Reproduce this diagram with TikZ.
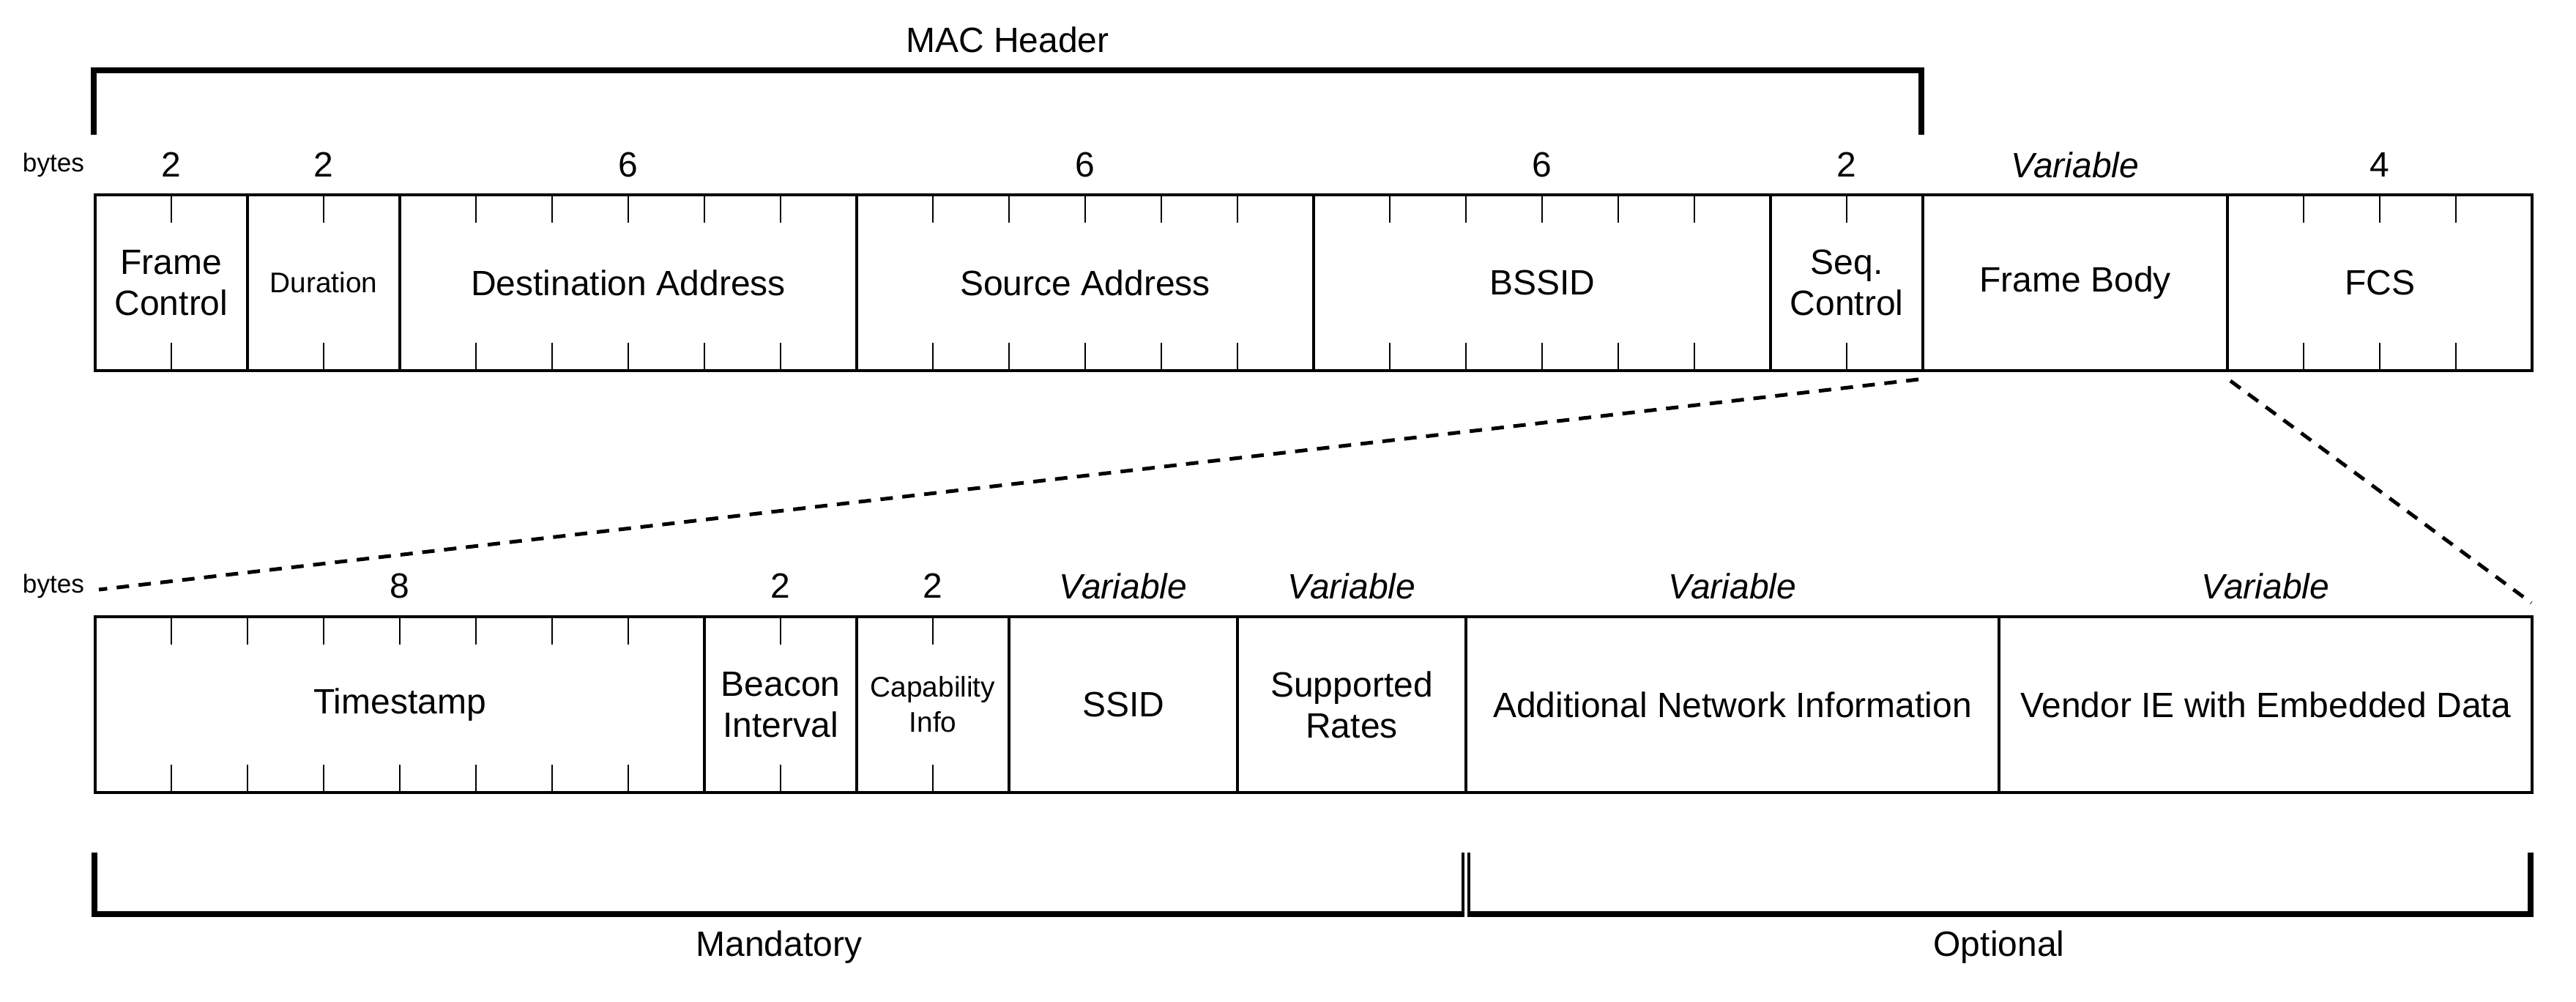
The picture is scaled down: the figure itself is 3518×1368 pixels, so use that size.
\documentclass[tikz,border=0pt]{standalone}
\usepackage{fontspec}
\setmainfont{Liberation Sans}
\usetikzlibrary{positioning}

\begin{document}
\begin{tikzpicture}[x=0.25pt,y=-0.25pt,
  field/.style={draw,line width=0.85pt,inner sep=0pt,outer sep=0pt,
    minimum width=#1*26pt,minimum height=60pt,align=center,
    font=\fontsize{12}{14}\selectfont},
  small/.style={font=\fontsize{9.7}{12}\selectfont},
  count/.style={inner sep=0pt,font=\fontsize{12}{14}\selectfont},
  var/.style={count,font=\fontsize{12}{14}\selectfont\itshape},
  unit/.style={inner sep=0pt,font=\fontsize{8.8}{10}\selectfont},
  title/.style={inner sep=0pt,font=\fontsize{12}{14}\selectfont},
  tick/.style={line width=0.65pt},
  bracket/.style={line width=2pt,line join=miter},
  thinleg/.style={line width=1pt},
  zoomline/.style={line width=1.25pt,dash pattern=on 4.25pt off 3.25pt}]

  \useasboundingbox (0,0) rectangle (3518,1368);

  % MAC frame
  \node[field=2] at (234,386) (fc) {Frame\\Control};
  \node[field=2,small,right=0pt of fc] (dur) {Duration};
  \node[field=6,right=0pt of dur] (da) {Destination Address};
  \node[field=6,right=0pt of da] (sa) {Source Address};
  \node[field=6,right=0pt of sa] (bssid) {BSSID};
  \node[field=2,right=0pt of bssid] (seq) {Seq.\\Control};
  \node[field=4,right=0pt of seq] (body) {Frame Body};
  \node[field=4,right=0pt of body] (fcs) {FCS};

  \coordinate (toprow) at (0,225);
  \node[unit] at (73,225) (bytesa) {bytes};
  \node[count] at (fc |- toprow) {2};
  \node[count] at (dur |- toprow) {2};
  \node[count] at (da |- toprow) {6};
  \node[count] at (sa |- toprow) {6};
  \node[count] at (bssid |- toprow) {6};
  \node[count] at (seq |- toprow) {2};
  \node[var] at (body |- toprow) {Variable};
  \node[count] at (fcs |- toprow) {4};

  \foreach \x in {234,442,650,754,858,962,1066,1274,1378,1482,1586,1690,
                  1898,2002,2106,2210,2314,2522,3146,3250,3354}
    \draw[tick] (\x,266) -- ++(0,38) (\x,506) -- ++(0,-38);

  % MAC header bracket
  \draw[bracket] (128,184) |- (2624,96) -- (2624,184);
  \node[title] at (1376,54) (mac) {MAC Header};

  % beacon frame body
  \node[field=8] at (546,962) (ts) {Timestamp};
  \node[field=2,right=0pt of ts] (bi) {Beacon\\Interval};
  \node[field=2,small,right=0pt of bi] (cap) {Capability\\Info};
  \node[field=3,right=0pt of cap] (ssid) {SSID};
  \node[field=3,right=0pt of ssid] (rates) {Supported\\Rates};
  \node[field=7,right=0pt of rates] (netinfo) {Additional Network Information};
  \node[field=7,right=0pt of netinfo] (vendor) {Vendor IE with Embedded Data};

  \coordinate (botrow) at (0,800);
  \node[unit] at (73,800) (bytesb) {bytes};
  \node[count] at (ts |- botrow) {8};
  \node[count] at (bi |- botrow) {2};
  \node[count] at (cap |- botrow) {2};
  \node[var] at (ssid |- botrow) {Variable};
  \node[var] at (rates |- botrow) {Variable};
  \node[var] at (netinfo |- botrow) {Variable};
  \node[var] at (vendor |- botrow) {Variable};

  \foreach \x in {234,338,442,546,650,754,858,1066,1274}
    \draw[tick] (\x,842) -- ++(0,38) (\x,1082) -- ++(0,-38);

  % zoom lines
  \draw[zoomline] ([shift={(-6,12)}]body.south west) -- ([shift={(5,-37)}]ts.north west);
  \draw[zoomline] ([shift={(4,14)}]body.south east) -- ([shift={(-1,-19)}]vendor.north east);

  % mandatory / optional brackets
  \draw[bracket] (129,1164) |- (2000,1248);
  \draw[thinleg] (1998,1164) -- (1998,1252);
  \draw[thinleg] (2006,1164) -- (2006,1252);
  \draw[bracket] (2004,1248) -| (3456,1164);
  \node[title] at (1064,1293) (mand) {Mandatory};
  \node[title] at (2730,1293) (opt) {Optional};
\end{tikzpicture}
\end{document}
